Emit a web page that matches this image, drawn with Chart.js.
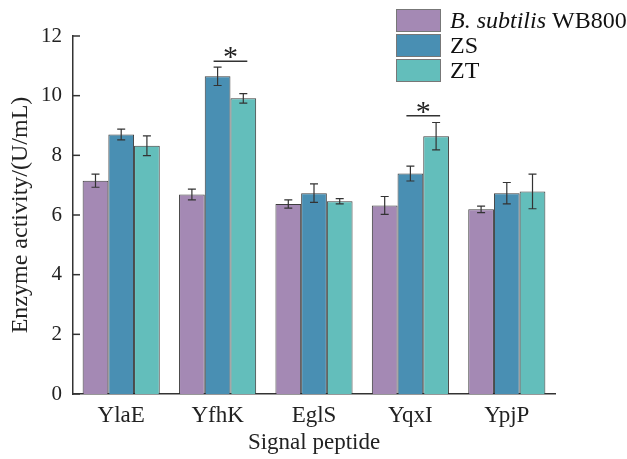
<!DOCTYPE html>
<html lang="en">
<head>
    <meta charset="UTF-8">
    <title>Enzyme activity by signal peptide</title>
    <script src="https://cdn.jsdelivr.net/npm/chart.js"></script>
    <style>
        body {
            margin: 0;
            overflow: hidden;
            background-color: white;
        }
        #wrap {
            width: 627px;
            height: 459px;
        }
    </style>
</head>
<body>
    <div id="wrap"><canvas id="enzymeChart"></canvas></div>
    <script>
        const categories = ['YlaE', 'YfhK', 'EglS', 'YqxI', 'YpjP'];
        const seriesNames = ['WB800', 'ZS', 'ZT'];
        const wb800 = [7.15, 6.69, 6.37, 6.32, 6.19];
        const wb800Err = [0.22, 0.18, 0.14, 0.30, 0.11];
        const zs = [8.70, 10.65, 6.73, 7.39, 6.73];
        const zsErr = [0.18, 0.31, 0.31, 0.25, 0.36];
        const zt = [8.32, 9.91, 6.46, 8.64, 6.79];
        const ztErr = [0.33, 0.16, 0.09, 0.46, 0.58];
        const yTicks = [0, 2, 4, 6, 8, 10, 12];
        // significance marks: category index and height of the bracket line
        const sigCategory = [1, 3];
        const sigLevel = [11.15, 9.33];

        const colors = ['#A489B4', '#498FB3', '#63BEBB'];
        const errors = [wb800Err, zsErr, ztErr];
        const serif = '"Liberation Serif", "Times New Roman", serif';

        // error bars, inward y ticks, stars and the legend
        const extras = {
            id: 'extras',
            afterDatasetsDraw(chart) {
                const ctx = chart.ctx;
                const y = chart.scales.y;
                ctx.save();
                ctx.strokeStyle = '#333';
                ctx.lineWidth = 1.2;
                chart.data.datasets.forEach((ds, i) => {
                    const meta = chart.getDatasetMeta(i);
                    meta.data.forEach((bar, j) => {
                        const v = ds.data[j];
                        const e = errors[i][j];
                        const y1 = y.getPixelForValue(v + e);
                        const y2 = y.getPixelForValue(v - e);
                        ctx.beginPath();
                        ctx.moveTo(bar.x, y1);
                        ctx.lineTo(bar.x, y2);
                        ctx.moveTo(bar.x - 4, y1);
                        ctx.lineTo(bar.x + 4, y1);
                        ctx.moveTo(bar.x - 4, y2);
                        ctx.lineTo(bar.x + 4, y2);
                        ctx.stroke();
                    });
                });

                // ticks point into the plot
                ctx.lineWidth = 1.5;
                yTicks.forEach(t => {
                    const py = y.getPixelForValue(t);
                    ctx.beginPath();
                    ctx.moveTo(chart.chartArea.left, py);
                    ctx.lineTo(chart.chartArea.left + 7, py);
                    ctx.stroke();
                });

                // significance brackets
                ctx.lineWidth = 1.5;
                ctx.fillStyle = '#222';
                ctx.font = '30px ' + serif;
                ctx.textAlign = 'center';
                ctx.textBaseline = 'alphabetic';
                sigCategory.forEach((c, k) => {
                    const b1 = chart.getDatasetMeta(1).data[c];
                    const b2 = chart.getDatasetMeta(2).data[c];
                    const py = y.getPixelForValue(sigLevel[k]);
                    ctx.beginPath();
                    ctx.moveTo(b1.x - 4, py);
                    ctx.lineTo(b2.x + 4, py);
                    ctx.stroke();
                    ctx.fillText('*', (b1.x + b2.x) / 2, py + 5);
                });

                // legend in the top right corner
                const lx = 396, ly = 9, bw = 45, bh = 23, gap = 25;
                ctx.textAlign = 'left';
                ctx.textBaseline = 'middle';
                ctx.lineWidth = 1;
                ctx.strokeStyle = '#777';
                seriesNames.forEach((name, i) => {
                    const top = ly + i * gap;
                    ctx.fillStyle = colors[i];
                    ctx.fillRect(lx, top, bw, bh);
                    ctx.strokeRect(lx + 0.5, top + 0.5, bw - 1, bh - 1);
                    ctx.fillStyle = '#111';
                    const ty = top + bh / 2 + 1;
                    if (i === 0) {
                        ctx.font = 'italic 24px ' + serif;
                        ctx.fillText('B. subtilis', 450, ty);
                        const w = ctx.measureText('B. subtilis ').width;
                        ctx.font = '24px ' + serif;
                        ctx.fillText(name, 450 + w, ty);
                    } else {
                        ctx.font = '24px ' + serif;
                        ctx.fillText(name, 450, ty);
                    }
                });
                ctx.restore();
            }
        };

        const series = [wb800, zs, zt];
        const ctx = document.getElementById('enzymeChart').getContext('2d');
        const enzymeChart = new Chart(ctx, {
            type: 'bar',
            data: {
                labels: categories,
                datasets: series.map((values, i) => ({
                    label: seriesNames[i],
                    data: values,
                    backgroundColor: colors[i],
                    borderColor: 'rgba(40, 40, 40, 0.9)',
                    borderWidth: 1,
                    categoryPercentage: 0.8,
                    barPercentage: 1.0
                }))
            },
            options: {
                responsive: true,
                maintainAspectRatio: false,
                animation: false,
                layout: {
                    padding: { top: 36, right: 72, left: 0, bottom: 0 }
                },
                plugins: {
                    legend: { display: false },
                    tooltip: { enabled: false }
                },
                scales: {
                    x: {
                        grid: { display: false, drawTicks: false },
                        border: { display: true, color: '#333', width: 1.5 },
                        ticks: {
                            color: '#222',
                            padding: 8,
                            font: { family: serif, size: 23 }
                        },
                        title: {
                            display: true,
                            text: 'Signal peptide',
                            color: '#222',
                            padding: { top: 0, bottom: 2 },
                            font: { family: serif, size: 23, lineHeight: 1.2 }
                        },
                        afterFit(scale) { scale.height = 65; }
                    },
                    y: {
                        min: 0,
                        max: 12,
                        grid: { display: false, drawTicks: false },
                        border: { display: true, color: '#333', width: 1.5 },
                        ticks: {
                            stepSize: 2,
                            color: '#222',
                            padding: 11,
                            font: { family: serif, size: 21 }
                        },
                        title: {
                            display: true,
                            text: 'Enzyme activity/(U/mL)',
                            color: '#222',
                            padding: { top: 6, bottom: 0 },
                            font: { family: serif, size: 24, lineHeight: 1.2 }
                        },
                        afterFit(scale) { scale.width = 73; }
                    }
                }
            },
            plugins: [extras]
        });
    </script>
</body>
</html>
